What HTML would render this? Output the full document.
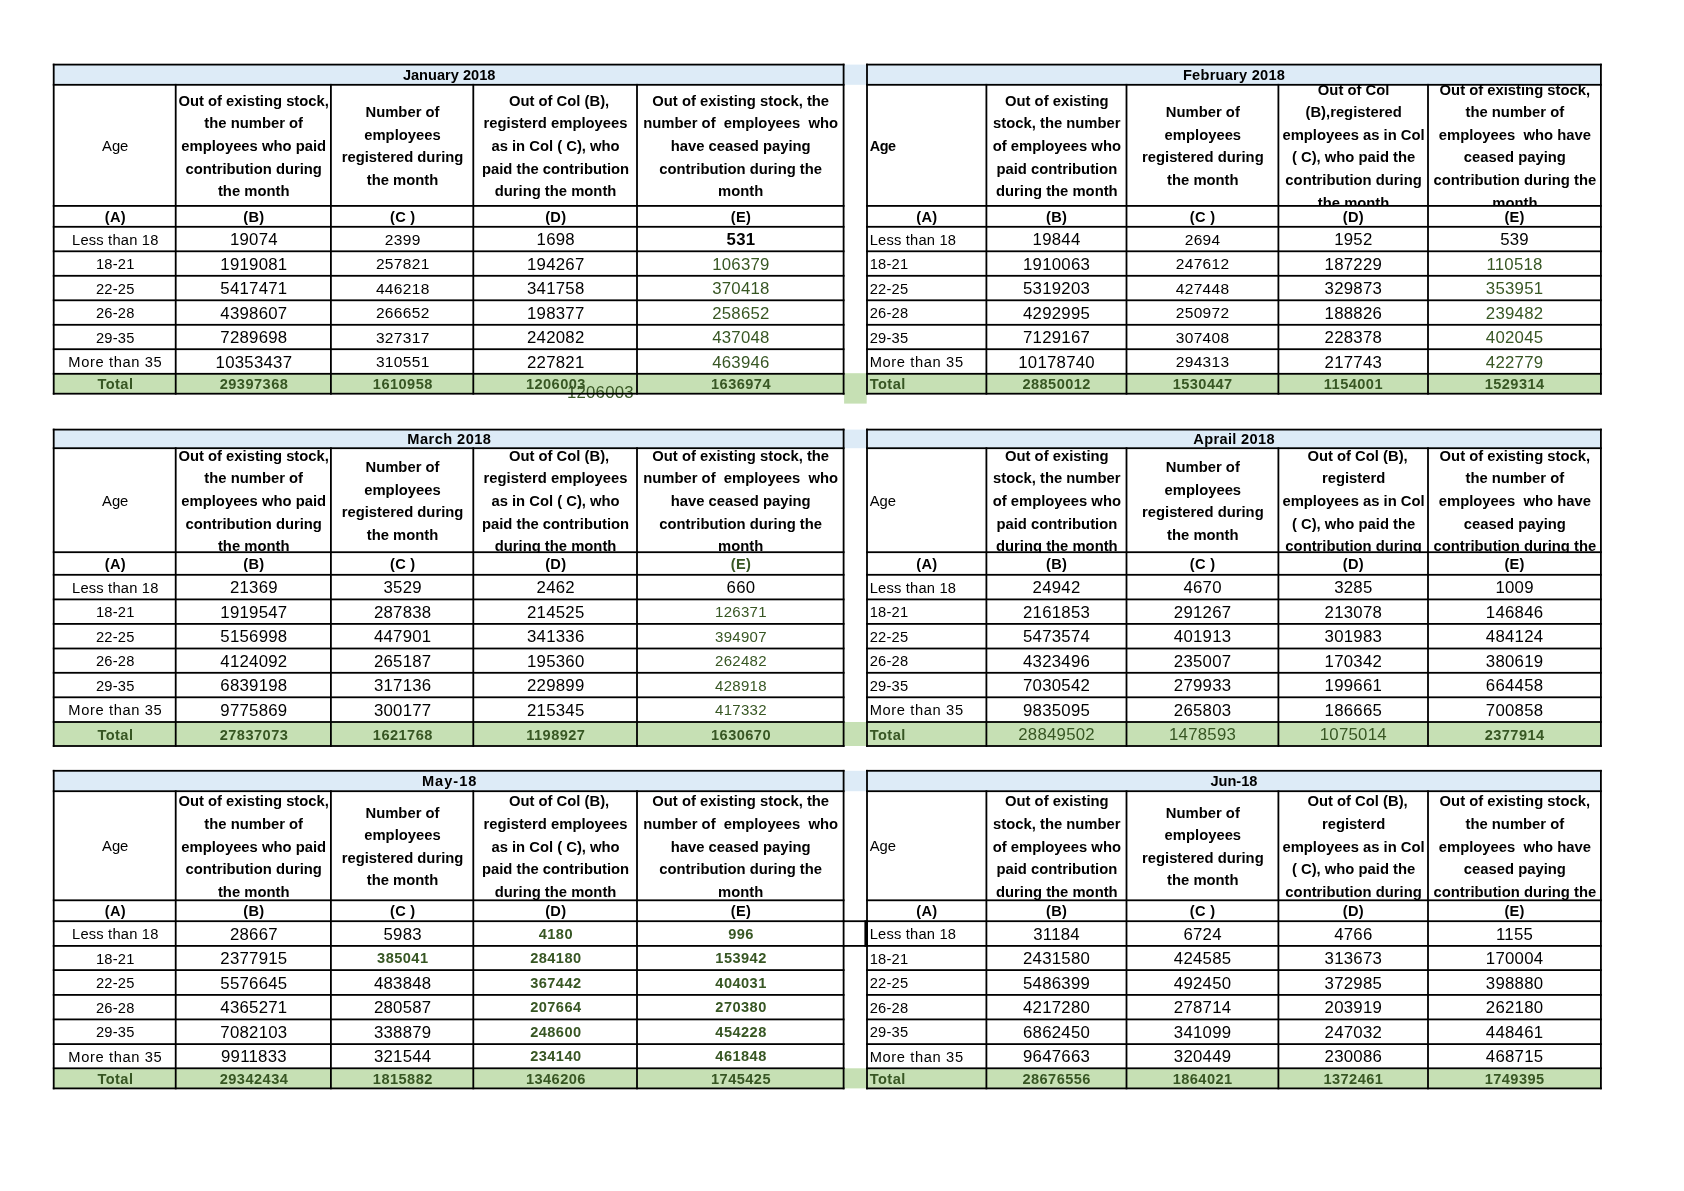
<!DOCTYPE html>
<html lang="en"><head><meta charset="utf-8"><title>Age-wise payroll data 2018</title>
<style>
*{margin:0;padding:0;box-sizing:border-box}
html,body{width:1684px;height:1191px;background:#fff;overflow:hidden}
body{position:relative;font-family:"Liberation Sans",sans-serif;color:#000}
svg{position:absolute;left:0;top:0}
.L{position:absolute;left:0;top:0;width:1684px;height:1191px;will-change:transform}
.t{position:absolute;height:20px;line-height:20px;white-space:nowrap;overflow:visible}
.hc{position:absolute;overflow:hidden}
.h{position:absolute;left:-20px;right:-20px;text-align:center;white-space:nowrap;line-height:22.6px}
.big{font-size:16.8px;letter-spacing:0.25px;font-weight:normal}
.small{font-size:15.5px;letter-spacing:0.33px;font-weight:normal}
.small2{font-size:15.0px;letter-spacing:0.28px;font-weight:normal}
.a{font-size:14.7px;letter-spacing:0.2px;font-weight:normal}
.tot{font-size:14.6px;letter-spacing:0.45px;font-weight:bold}
.title{font-size:14.6px;letter-spacing:0px;font-weight:bold}
.age{font-size:14.8px;letter-spacing:0px;font-weight:normal}
.ageb{font-size:14.4px;letter-spacing:-0.4px;font-weight:bold}
.lab{font-size:14.6px;letter-spacing:0.3px;font-weight:bold}
.hdr{font-size:14.8px;letter-spacing:0px;font-weight:bold}
.bigb{font-size:16.8px;letter-spacing:0.25px;font-weight:bold}
</style></head>
<body>
<svg width="1684" height="1191" viewBox="0 0 1684 1191">
<rect x="843.60" y="64.60" width="23.40" height="20.20" fill="#ddebf7"/>
<rect x="843.60" y="429.60" width="23.40" height="18.60" fill="#ddebf7"/>
<rect x="843.60" y="770.80" width="23.40" height="20.40" fill="#ddebf7"/>
<rect x="844.10" y="373.20" width="22.60" height="30.40" fill="#c6e0b4"/>
<rect x="843.60" y="722.00" width="23.40" height="24.00" fill="#c6e0b4"/>
<rect x="843.60" y="1068.30" width="23.40" height="20.10" fill="#c6e0b4"/>
<rect x="53.70" y="64.60" width="789.90" height="20.20" fill="#ddebf7"/>
<rect x="53.70" y="373.80" width="789.90" height="19.90" fill="#c6e0b4"/>
<rect x="867.00" y="64.60" width="733.90" height="20.20" fill="#ddebf7"/>
<rect x="867.00" y="373.80" width="733.90" height="19.90" fill="#c6e0b4"/>
<rect x="53.70" y="429.60" width="789.90" height="18.60" fill="#ddebf7"/>
<rect x="53.70" y="722.00" width="789.90" height="24.00" fill="#c6e0b4"/>
<rect x="867.00" y="429.60" width="733.90" height="18.60" fill="#ddebf7"/>
<rect x="867.00" y="722.00" width="733.90" height="24.00" fill="#c6e0b4"/>
<rect x="53.70" y="770.80" width="789.90" height="20.40" fill="#ddebf7"/>
<rect x="53.70" y="1068.30" width="789.90" height="20.10" fill="#c6e0b4"/>
<rect x="867.00" y="770.80" width="733.90" height="20.40" fill="#ddebf7"/>
<rect x="867.00" y="1068.30" width="733.90" height="20.10" fill="#c6e0b4"/>
</svg>
<div class="L">
<div class="t big" style="left:564.00px;width:72.60px;top:383px;text-align:center;padding-left:0.25px;color:#375623;">1206003</div>
</div>
<svg width="1684" height="1191" viewBox="0 0 1684 1191">
<rect x="52.80" y="63.70" width="791.70" height="1.80" fill="#000"/>
<rect x="52.80" y="83.90" width="791.70" height="1.80" fill="#000"/>
<rect x="52.80" y="205.00" width="791.70" height="1.80" fill="#000"/>
<rect x="52.80" y="225.90" width="791.70" height="1.80" fill="#000"/>
<rect x="52.80" y="250.40" width="791.70" height="1.80" fill="#000"/>
<rect x="52.80" y="274.90" width="791.70" height="1.80" fill="#000"/>
<rect x="52.80" y="299.40" width="791.70" height="1.80" fill="#000"/>
<rect x="52.80" y="323.90" width="791.70" height="1.80" fill="#000"/>
<rect x="52.80" y="348.30" width="791.70" height="1.80" fill="#000"/>
<rect x="52.80" y="372.90" width="791.70" height="1.80" fill="#000"/>
<rect x="52.80" y="392.80" width="791.70" height="1.80" fill="#000"/>
<rect x="52.80" y="63.70" width="1.80" height="330.90" fill="#000"/>
<rect x="842.70" y="63.70" width="1.80" height="330.90" fill="#000"/>
<rect x="174.80" y="83.90" width="1.80" height="310.70" fill="#000"/>
<rect x="330.00" y="83.90" width="1.80" height="310.70" fill="#000"/>
<rect x="472.40" y="83.90" width="1.80" height="310.70" fill="#000"/>
<rect x="636.10" y="83.90" width="1.80" height="310.70" fill="#000"/>
<rect x="866.10" y="63.70" width="735.70" height="1.80" fill="#000"/>
<rect x="866.10" y="83.90" width="735.70" height="1.80" fill="#000"/>
<rect x="866.10" y="205.00" width="735.70" height="1.80" fill="#000"/>
<rect x="866.10" y="225.90" width="735.70" height="1.80" fill="#000"/>
<rect x="866.10" y="250.40" width="735.70" height="1.80" fill="#000"/>
<rect x="866.10" y="274.90" width="735.70" height="1.80" fill="#000"/>
<rect x="866.10" y="299.40" width="735.70" height="1.80" fill="#000"/>
<rect x="866.10" y="323.90" width="735.70" height="1.80" fill="#000"/>
<rect x="866.10" y="348.30" width="735.70" height="1.80" fill="#000"/>
<rect x="866.10" y="372.90" width="735.70" height="1.80" fill="#000"/>
<rect x="866.10" y="392.80" width="735.70" height="1.80" fill="#000"/>
<rect x="866.10" y="63.70" width="1.80" height="330.90" fill="#000"/>
<rect x="1600.00" y="63.70" width="1.80" height="330.90" fill="#000"/>
<rect x="985.50" y="83.90" width="1.80" height="310.70" fill="#000"/>
<rect x="1125.60" y="83.90" width="1.80" height="310.70" fill="#000"/>
<rect x="1277.50" y="83.90" width="1.80" height="310.70" fill="#000"/>
<rect x="1427.10" y="83.90" width="1.80" height="310.70" fill="#000"/>
<rect x="52.80" y="428.70" width="791.70" height="1.80" fill="#000"/>
<rect x="52.80" y="447.30" width="791.70" height="1.80" fill="#000"/>
<rect x="52.80" y="551.30" width="791.70" height="1.80" fill="#000"/>
<rect x="52.80" y="573.90" width="791.70" height="1.80" fill="#000"/>
<rect x="52.80" y="598.50" width="791.70" height="1.80" fill="#000"/>
<rect x="52.80" y="623.00" width="791.70" height="1.80" fill="#000"/>
<rect x="52.80" y="647.60" width="791.70" height="1.80" fill="#000"/>
<rect x="52.80" y="671.90" width="791.70" height="1.80" fill="#000"/>
<rect x="52.80" y="696.40" width="791.70" height="1.80" fill="#000"/>
<rect x="52.80" y="721.10" width="791.70" height="1.80" fill="#000"/>
<rect x="52.80" y="745.10" width="791.70" height="1.80" fill="#000"/>
<rect x="52.80" y="428.70" width="1.80" height="318.20" fill="#000"/>
<rect x="842.70" y="428.70" width="1.80" height="318.20" fill="#000"/>
<rect x="174.80" y="447.30" width="1.80" height="299.60" fill="#000"/>
<rect x="330.00" y="447.30" width="1.80" height="299.60" fill="#000"/>
<rect x="472.40" y="447.30" width="1.80" height="299.60" fill="#000"/>
<rect x="636.10" y="447.30" width="1.80" height="299.60" fill="#000"/>
<rect x="866.10" y="428.70" width="735.70" height="1.80" fill="#000"/>
<rect x="866.10" y="447.30" width="735.70" height="1.80" fill="#000"/>
<rect x="866.10" y="551.30" width="735.70" height="1.80" fill="#000"/>
<rect x="866.10" y="573.90" width="735.70" height="1.80" fill="#000"/>
<rect x="866.10" y="598.50" width="735.70" height="1.80" fill="#000"/>
<rect x="866.10" y="623.00" width="735.70" height="1.80" fill="#000"/>
<rect x="866.10" y="647.60" width="735.70" height="1.80" fill="#000"/>
<rect x="866.10" y="671.90" width="735.70" height="1.80" fill="#000"/>
<rect x="866.10" y="696.40" width="735.70" height="1.80" fill="#000"/>
<rect x="866.10" y="721.10" width="735.70" height="1.80" fill="#000"/>
<rect x="866.10" y="745.10" width="735.70" height="1.80" fill="#000"/>
<rect x="866.10" y="428.70" width="1.80" height="318.20" fill="#000"/>
<rect x="1600.00" y="428.70" width="1.80" height="318.20" fill="#000"/>
<rect x="985.50" y="447.30" width="1.80" height="299.60" fill="#000"/>
<rect x="1125.60" y="447.30" width="1.80" height="299.60" fill="#000"/>
<rect x="1277.50" y="447.30" width="1.80" height="299.60" fill="#000"/>
<rect x="1427.10" y="447.30" width="1.80" height="299.60" fill="#000"/>
<rect x="52.80" y="769.90" width="791.70" height="1.80" fill="#000"/>
<rect x="52.80" y="790.30" width="791.70" height="1.80" fill="#000"/>
<rect x="52.80" y="899.40" width="791.70" height="1.80" fill="#000"/>
<rect x="52.80" y="920.30" width="791.70" height="1.80" fill="#000"/>
<rect x="52.80" y="945.00" width="791.70" height="1.80" fill="#000"/>
<rect x="52.80" y="969.20" width="791.70" height="1.80" fill="#000"/>
<rect x="52.80" y="994.00" width="791.70" height="1.80" fill="#000"/>
<rect x="52.80" y="1018.50" width="791.70" height="1.80" fill="#000"/>
<rect x="52.80" y="1043.20" width="791.70" height="1.80" fill="#000"/>
<rect x="52.80" y="1067.40" width="791.70" height="1.80" fill="#000"/>
<rect x="52.80" y="1087.50" width="791.70" height="1.80" fill="#000"/>
<rect x="52.80" y="769.90" width="1.80" height="319.40" fill="#000"/>
<rect x="842.70" y="769.90" width="1.80" height="319.40" fill="#000"/>
<rect x="174.80" y="790.30" width="1.80" height="299.00" fill="#000"/>
<rect x="330.00" y="790.30" width="1.80" height="299.00" fill="#000"/>
<rect x="472.40" y="790.30" width="1.80" height="299.00" fill="#000"/>
<rect x="636.10" y="790.30" width="1.80" height="299.00" fill="#000"/>
<rect x="866.10" y="769.90" width="735.70" height="1.80" fill="#000"/>
<rect x="866.10" y="790.30" width="735.70" height="1.80" fill="#000"/>
<rect x="866.10" y="899.40" width="735.70" height="1.80" fill="#000"/>
<rect x="866.10" y="920.30" width="735.70" height="1.80" fill="#000"/>
<rect x="866.10" y="945.00" width="735.70" height="1.80" fill="#000"/>
<rect x="866.10" y="969.20" width="735.70" height="1.80" fill="#000"/>
<rect x="866.10" y="994.00" width="735.70" height="1.80" fill="#000"/>
<rect x="866.10" y="1018.50" width="735.70" height="1.80" fill="#000"/>
<rect x="866.10" y="1043.20" width="735.70" height="1.80" fill="#000"/>
<rect x="866.10" y="1067.40" width="735.70" height="1.80" fill="#000"/>
<rect x="866.10" y="1087.50" width="735.70" height="1.80" fill="#000"/>
<rect x="866.10" y="769.90" width="1.80" height="319.40" fill="#000"/>
<rect x="1600.00" y="769.90" width="1.80" height="319.40" fill="#000"/>
<rect x="985.50" y="790.30" width="1.80" height="299.00" fill="#000"/>
<rect x="1125.60" y="790.30" width="1.80" height="299.00" fill="#000"/>
<rect x="1277.50" y="790.30" width="1.80" height="299.00" fill="#000"/>
<rect x="1427.10" y="790.30" width="1.80" height="299.00" fill="#000"/>
<rect x="842.70" y="920.30" width="25.20" height="1.80" fill="#000"/>
<rect x="842.70" y="945.00" width="25.20" height="1.80" fill="#000"/>
<rect x="864.40" y="920.30" width="3.60" height="26.50" fill="#000"/>
</svg>
<div class="L">
<div class="t title" style="left:54.20px;width:789.90px;top:65px;text-align:center;">January 2018</div>
<div class="t age" style="left:54.20px;width:122.00px;top:136px;text-align:center;">Age</div>
<div class="hc" style="left:177.00px;top:85px;width:153.40px;height:121px;"><div class="t hdr" style="left:-20px;right:-20px;top:6px;text-align:center">Out of existing stock,</div><div class="t hdr" style="left:-20px;right:-20px;top:28px;text-align:center">the number of</div><div class="t hdr" style="left:-20px;right:-20px;top:51px;text-align:center">employees who paid</div><div class="t hdr" style="left:-20px;right:-20px;top:74px;text-align:center">contribution during</div><div class="t hdr" style="left:-20px;right:-20px;top:96px;text-align:center">the month</div></div>
<div class="hc" style="left:332.20px;top:85px;width:140.60px;height:121px;"><div class="t hdr" style="left:-20px;right:-20px;top:17px;text-align:center">Number of</div><div class="t hdr" style="left:-20px;right:-20px;top:40px;text-align:center">employees</div><div class="t hdr" style="left:-20px;right:-20px;top:62px;text-align:center">registered during</div><div class="t hdr" style="left:-20px;right:-20px;top:85px;text-align:center">the month</div></div>
<div class="hc" style="left:474.60px;top:85px;width:161.90px;height:121px;"><div class="t hdr" style="left:-20px;right:-20px;top:6px;text-align:center"><span style="padding-left:7px">Out of Col (B),</span></div><div class="t hdr" style="left:-20px;right:-20px;top:28px;text-align:center">registerd employees</div><div class="t hdr" style="left:-20px;right:-20px;top:51px;text-align:center">as in Col ( C), who</div><div class="t hdr" style="left:-20px;right:-20px;top:74px;text-align:center">paid the contribution</div><div class="t hdr" style="left:-20px;right:-20px;top:96px;text-align:center">during the month</div></div>
<div class="hc" style="left:638.30px;top:85px;width:204.80px;height:121px;"><div class="t hdr" style="left:-20px;right:-20px;top:6px;text-align:center">Out of existing stock, the</div><div class="t hdr" style="left:-20px;right:-20px;top:28px;text-align:center">number of&nbsp; employees&nbsp; who</div><div class="t hdr" style="left:-20px;right:-20px;top:51px;text-align:center">have ceased paying</div><div class="t hdr" style="left:-20px;right:-20px;top:74px;text-align:center">contribution during the</div><div class="t hdr" style="left:-20px;right:-20px;top:96px;text-align:center">month</div></div>
<div class="t lab" style="left:54.20px;width:122.00px;top:207px;text-align:center;padding-left:0.3px;">(A)</div>
<div class="t lab" style="left:176.20px;width:155.20px;top:207px;text-align:center;padding-left:0.3px;">(B)</div>
<div class="t lab" style="left:331.40px;width:142.40px;top:207px;text-align:center;padding-left:0.3px;">(C )</div>
<div class="t lab" style="left:473.80px;width:163.70px;top:207px;text-align:center;padding-left:0.3px;">(D)</div>
<div class="t lab" style="left:637.50px;width:206.60px;top:207px;text-align:center;padding-left:0.3px;">(E)</div>
<div class="t a" style="left:54.20px;width:122.00px;top:230px;text-align:center;padding-left:0.2px;">Less than 18</div>
<div class="t a" style="left:54.20px;width:122.00px;top:254px;text-align:center;padding-left:0.2px;">18-21</div>
<div class="t a" style="left:54.20px;width:122.00px;top:279px;text-align:center;padding-left:0.2px;">22-25</div>
<div class="t a" style="left:54.20px;width:122.00px;top:303px;text-align:center;padding-left:0.2px;">26-28</div>
<div class="t a" style="left:54.20px;width:122.00px;top:328px;text-align:center;padding-left:0.2px;">29-35</div>
<div class="t a" style="left:54.20px;width:122.00px;top:352px;text-align:center;padding-left:0.2px;letter-spacing:0.62px;">More than 35</div>
<div class="t tot" style="left:54.20px;width:122.00px;top:374px;text-align:center;padding-left:0.45px;color:#375623;">Total</div>
<div class="t big" style="left:176.20px;width:155.20px;top:230px;text-align:center;padding-left:0.25px;">19074</div>
<div class="t big" style="left:176.20px;width:155.20px;top:255px;text-align:center;padding-left:0.25px;">1919081</div>
<div class="t big" style="left:176.20px;width:155.20px;top:279px;text-align:center;padding-left:0.25px;">5417471</div>
<div class="t big" style="left:176.20px;width:155.20px;top:304px;text-align:center;padding-left:0.25px;">4398607</div>
<div class="t big" style="left:176.20px;width:155.20px;top:328px;text-align:center;padding-left:0.25px;">7289698</div>
<div class="t big" style="left:176.20px;width:155.20px;top:353px;text-align:center;padding-left:0.25px;">10353437</div>
<div class="t tot" style="left:176.20px;width:155.20px;top:374px;text-align:center;padding-left:0.45px;color:#375623;">29397368</div>
<div class="t small" style="left:331.40px;width:142.40px;top:230px;text-align:center;padding-left:0.33px;">2399</div>
<div class="t small" style="left:331.40px;width:142.40px;top:254px;text-align:center;padding-left:0.33px;">257821</div>
<div class="t small" style="left:331.40px;width:142.40px;top:279px;text-align:center;padding-left:0.33px;">446218</div>
<div class="t small" style="left:331.40px;width:142.40px;top:303px;text-align:center;padding-left:0.33px;">266652</div>
<div class="t small" style="left:331.40px;width:142.40px;top:328px;text-align:center;padding-left:0.33px;">327317</div>
<div class="t small" style="left:331.40px;width:142.40px;top:352px;text-align:center;padding-left:0.33px;">310551</div>
<div class="t tot" style="left:331.40px;width:142.40px;top:374px;text-align:center;padding-left:0.45px;color:#375623;">1610958</div>
<div class="t big" style="left:473.80px;width:163.70px;top:230px;text-align:center;padding-left:0.25px;">1698</div>
<div class="t big" style="left:473.80px;width:163.70px;top:255px;text-align:center;padding-left:0.25px;">194267</div>
<div class="t big" style="left:473.80px;width:163.70px;top:279px;text-align:center;padding-left:0.25px;">341758</div>
<div class="t big" style="left:473.80px;width:163.70px;top:304px;text-align:center;padding-left:0.25px;">198377</div>
<div class="t big" style="left:473.80px;width:163.70px;top:328px;text-align:center;padding-left:0.25px;">242082</div>
<div class="t big" style="left:473.80px;width:163.70px;top:353px;text-align:center;padding-left:0.25px;">227821</div>
<div class="t tot" style="left:473.80px;width:163.70px;top:374px;text-align:center;padding-left:0.45px;color:#375623;">1206003</div>
<div class="t bigb" style="left:637.50px;width:206.60px;top:230px;text-align:center;padding-left:0.25px;">531</div>
<div class="t big" style="left:637.50px;width:206.60px;top:255px;text-align:center;padding-left:0.25px;color:#375623;">106379</div>
<div class="t big" style="left:637.50px;width:206.60px;top:279px;text-align:center;padding-left:0.25px;color:#375623;">370418</div>
<div class="t big" style="left:637.50px;width:206.60px;top:304px;text-align:center;padding-left:0.25px;color:#375623;">258652</div>
<div class="t big" style="left:637.50px;width:206.60px;top:328px;text-align:center;padding-left:0.25px;color:#375623;">437048</div>
<div class="t big" style="left:637.50px;width:206.60px;top:353px;text-align:center;padding-left:0.25px;color:#375623;">463946</div>
<div class="t tot" style="left:637.50px;width:206.60px;top:374px;text-align:center;padding-left:0.45px;color:#375623;">1636974</div>
<div class="t title" style="left:867.00px;width:733.90px;top:65px;text-align:center;letter-spacing:0.25px;padding-left:0.25px;">February 2018</div>
<div class="t ageb" style="left:867.00px;width:119.40px;top:136px;text-align:left;padding-left:2.7px;">Age</div>
<div class="hc" style="left:987.70px;top:85px;width:138.30px;height:121px;"><div class="t hdr" style="left:-20px;right:-20px;top:6px;text-align:center">Out of existing</div><div class="t hdr" style="left:-20px;right:-20px;top:28px;text-align:center">stock, the number</div><div class="t hdr" style="left:-20px;right:-20px;top:51px;text-align:center">of employees who</div><div class="t hdr" style="left:-20px;right:-20px;top:74px;text-align:center">paid contribution</div><div class="t hdr" style="left:-20px;right:-20px;top:96px;text-align:center">during the month</div></div>
<div class="hc" style="left:1127.80px;top:85px;width:150.10px;height:121px;"><div class="t hdr" style="left:-20px;right:-20px;top:17px;text-align:center">Number of</div><div class="t hdr" style="left:-20px;right:-20px;top:40px;text-align:center">employees</div><div class="t hdr" style="left:-20px;right:-20px;top:62px;text-align:center">registered during</div><div class="t hdr" style="left:-20px;right:-20px;top:85px;text-align:center">the month</div></div>
<div class="hc" style="left:1279.70px;top:85px;width:147.80px;height:121px;"><div class="t hdr" style="left:-20px;right:-20px;top:-5px;text-align:center">Out of Col</div><div class="t hdr" style="left:-20px;right:-20px;top:17px;text-align:center">(B),registered</div><div class="t hdr" style="left:-20px;right:-20px;top:40px;text-align:center">employees as in Col</div><div class="t hdr" style="left:-20px;right:-20px;top:62px;text-align:center">( C), who paid the</div><div class="t hdr" style="left:-20px;right:-20px;top:85px;text-align:center">contribution during</div><div class="t hdr" style="left:-20px;right:-20px;top:108px;text-align:center">the month</div></div>
<div class="hc" style="left:1429.30px;top:85px;width:171.10px;height:121px;"><div class="t hdr" style="left:-20px;right:-20px;top:-5px;text-align:center">Out of existing stock,</div><div class="t hdr" style="left:-20px;right:-20px;top:17px;text-align:center">the number of</div><div class="t hdr" style="left:-20px;right:-20px;top:40px;text-align:center">employees&nbsp; who have</div><div class="t hdr" style="left:-20px;right:-20px;top:62px;text-align:center">ceased paying</div><div class="t hdr" style="left:-20px;right:-20px;top:85px;text-align:center">contribution during the</div><div class="t hdr" style="left:-20px;right:-20px;top:108px;text-align:center">month</div></div>
<div class="t lab" style="left:867.00px;width:119.40px;top:207px;text-align:center;padding-left:0.3px;">(A)</div>
<div class="t lab" style="left:986.40px;width:140.10px;top:207px;text-align:center;padding-left:0.3px;">(B)</div>
<div class="t lab" style="left:1126.50px;width:151.90px;top:207px;text-align:center;padding-left:0.3px;">(C )</div>
<div class="t lab" style="left:1278.40px;width:149.60px;top:207px;text-align:center;padding-left:0.3px;">(D)</div>
<div class="t lab" style="left:1428.00px;width:172.90px;top:207px;text-align:center;padding-left:0.3px;">(E)</div>
<div class="t a" style="left:867.00px;width:119.40px;top:230px;text-align:left;padding-left:2.7px;">Less than 18</div>
<div class="t a" style="left:867.00px;width:119.40px;top:254px;text-align:left;padding-left:2.7px;">18-21</div>
<div class="t a" style="left:867.00px;width:119.40px;top:279px;text-align:left;padding-left:2.7px;">22-25</div>
<div class="t a" style="left:867.00px;width:119.40px;top:303px;text-align:left;padding-left:2.7px;">26-28</div>
<div class="t a" style="left:867.00px;width:119.40px;top:328px;text-align:left;padding-left:2.7px;">29-35</div>
<div class="t a" style="left:867.00px;width:119.40px;top:352px;text-align:left;padding-left:2.7px;letter-spacing:0.62px;">More than 35</div>
<div class="t tot" style="left:867.00px;width:119.40px;top:374px;text-align:left;padding-left:2.7px;color:#375623;">Total</div>
<div class="t big" style="left:986.40px;width:140.10px;top:230px;text-align:center;padding-left:0.25px;">19844</div>
<div class="t big" style="left:986.40px;width:140.10px;top:255px;text-align:center;padding-left:0.25px;">1910063</div>
<div class="t big" style="left:986.40px;width:140.10px;top:279px;text-align:center;padding-left:0.25px;">5319203</div>
<div class="t big" style="left:986.40px;width:140.10px;top:304px;text-align:center;padding-left:0.25px;">4292995</div>
<div class="t big" style="left:986.40px;width:140.10px;top:328px;text-align:center;padding-left:0.25px;">7129167</div>
<div class="t big" style="left:986.40px;width:140.10px;top:353px;text-align:center;padding-left:0.25px;">10178740</div>
<div class="t tot" style="left:986.40px;width:140.10px;top:374px;text-align:center;padding-left:0.45px;color:#375623;">28850012</div>
<div class="t small" style="left:1126.50px;width:151.90px;top:230px;text-align:center;padding-left:0.33px;">2694</div>
<div class="t small" style="left:1126.50px;width:151.90px;top:254px;text-align:center;padding-left:0.33px;">247612</div>
<div class="t small" style="left:1126.50px;width:151.90px;top:279px;text-align:center;padding-left:0.33px;">427448</div>
<div class="t small" style="left:1126.50px;width:151.90px;top:303px;text-align:center;padding-left:0.33px;">250972</div>
<div class="t small" style="left:1126.50px;width:151.90px;top:328px;text-align:center;padding-left:0.33px;">307408</div>
<div class="t small" style="left:1126.50px;width:151.90px;top:352px;text-align:center;padding-left:0.33px;">294313</div>
<div class="t tot" style="left:1126.50px;width:151.90px;top:374px;text-align:center;padding-left:0.45px;color:#375623;">1530447</div>
<div class="t big" style="left:1278.40px;width:149.60px;top:230px;text-align:center;padding-left:0.25px;">1952</div>
<div class="t big" style="left:1278.40px;width:149.60px;top:255px;text-align:center;padding-left:0.25px;">187229</div>
<div class="t big" style="left:1278.40px;width:149.60px;top:279px;text-align:center;padding-left:0.25px;">329873</div>
<div class="t big" style="left:1278.40px;width:149.60px;top:304px;text-align:center;padding-left:0.25px;">188826</div>
<div class="t big" style="left:1278.40px;width:149.60px;top:328px;text-align:center;padding-left:0.25px;">228378</div>
<div class="t big" style="left:1278.40px;width:149.60px;top:353px;text-align:center;padding-left:0.25px;">217743</div>
<div class="t tot" style="left:1278.40px;width:149.60px;top:374px;text-align:center;padding-left:0.45px;color:#375623;">1154001</div>
<div class="t big" style="left:1428.00px;width:172.90px;top:230px;text-align:center;padding-left:0.25px;">539</div>
<div class="t big" style="left:1428.00px;width:172.90px;top:255px;text-align:center;padding-left:0.25px;color:#375623;">110518</div>
<div class="t big" style="left:1428.00px;width:172.90px;top:279px;text-align:center;padding-left:0.25px;color:#375623;">353951</div>
<div class="t big" style="left:1428.00px;width:172.90px;top:304px;text-align:center;padding-left:0.25px;color:#375623;">239482</div>
<div class="t big" style="left:1428.00px;width:172.90px;top:328px;text-align:center;padding-left:0.25px;color:#375623;">402045</div>
<div class="t big" style="left:1428.00px;width:172.90px;top:353px;text-align:center;padding-left:0.25px;color:#375623;">422779</div>
<div class="t tot" style="left:1428.00px;width:172.90px;top:374px;text-align:center;padding-left:0.45px;color:#375623;">1529314</div>
<div class="t title" style="left:54.20px;width:789.90px;top:429px;text-align:center;letter-spacing:0.45px;padding-left:0.45px;">March 2018</div>
<div class="t age" style="left:54.20px;width:122.00px;top:491px;text-align:center;">Age</div>
<div class="hc" style="left:177.00px;top:448px;width:153.40px;height:105px;"><div class="t hdr" style="left:-20px;right:-20px;top:-2px;text-align:center">Out of existing stock,</div><div class="t hdr" style="left:-20px;right:-20px;top:20px;text-align:center">the number of</div><div class="t hdr" style="left:-20px;right:-20px;top:43px;text-align:center">employees who paid</div><div class="t hdr" style="left:-20px;right:-20px;top:66px;text-align:center">contribution during</div><div class="t hdr" style="left:-20px;right:-20px;top:88px;text-align:center">the month</div></div>
<div class="hc" style="left:332.20px;top:448px;width:140.60px;height:105px;"><div class="t hdr" style="left:-20px;right:-20px;top:9px;text-align:center">Number of</div><div class="t hdr" style="left:-20px;right:-20px;top:32px;text-align:center">employees</div><div class="t hdr" style="left:-20px;right:-20px;top:54px;text-align:center">registered during</div><div class="t hdr" style="left:-20px;right:-20px;top:77px;text-align:center">the month</div></div>
<div class="hc" style="left:474.60px;top:448px;width:161.90px;height:105px;"><div class="t hdr" style="left:-20px;right:-20px;top:-2px;text-align:center"><span style="padding-left:7px">Out of Col (B),</span></div><div class="t hdr" style="left:-20px;right:-20px;top:20px;text-align:center">registerd employees</div><div class="t hdr" style="left:-20px;right:-20px;top:43px;text-align:center">as in Col ( C), who</div><div class="t hdr" style="left:-20px;right:-20px;top:66px;text-align:center">paid the contribution</div><div class="t hdr" style="left:-20px;right:-20px;top:88px;text-align:center">during the month</div></div>
<div class="hc" style="left:638.30px;top:448px;width:204.80px;height:105px;"><div class="t hdr" style="left:-20px;right:-20px;top:-2px;text-align:center">Out of existing stock, the</div><div class="t hdr" style="left:-20px;right:-20px;top:20px;text-align:center">number of&nbsp; employees&nbsp; who</div><div class="t hdr" style="left:-20px;right:-20px;top:43px;text-align:center">have ceased paying</div><div class="t hdr" style="left:-20px;right:-20px;top:66px;text-align:center">contribution during the</div><div class="t hdr" style="left:-20px;right:-20px;top:88px;text-align:center">month</div></div>
<div class="t lab" style="left:54.20px;width:122.00px;top:554px;text-align:center;padding-left:0.3px;">(A)</div>
<div class="t lab" style="left:176.20px;width:155.20px;top:554px;text-align:center;padding-left:0.3px;">(B)</div>
<div class="t lab" style="left:331.40px;width:142.40px;top:554px;text-align:center;padding-left:0.3px;">(C )</div>
<div class="t lab" style="left:473.80px;width:163.70px;top:554px;text-align:center;padding-left:0.3px;">(D)</div>
<div class="t lab" style="left:637.50px;width:206.60px;top:554px;text-align:center;padding-left:0.3px;color:#375623;">(E)</div>
<div class="t a" style="left:54.20px;width:122.00px;top:578px;text-align:center;padding-left:0.2px;">Less than 18</div>
<div class="t a" style="left:54.20px;width:122.00px;top:602px;text-align:center;padding-left:0.2px;">18-21</div>
<div class="t a" style="left:54.20px;width:122.00px;top:627px;text-align:center;padding-left:0.2px;">22-25</div>
<div class="t a" style="left:54.20px;width:122.00px;top:651px;text-align:center;padding-left:0.2px;">26-28</div>
<div class="t a" style="left:54.20px;width:122.00px;top:676px;text-align:center;padding-left:0.2px;">29-35</div>
<div class="t a" style="left:54.20px;width:122.00px;top:700px;text-align:center;padding-left:0.2px;letter-spacing:0.62px;">More than 35</div>
<div class="t tot" style="left:54.20px;width:122.00px;top:725px;text-align:center;padding-left:0.45px;color:#375623;">Total</div>
<div class="t big" style="left:176.20px;width:155.20px;top:578px;text-align:center;padding-left:0.25px;">21369</div>
<div class="t big" style="left:176.20px;width:155.20px;top:603px;text-align:center;padding-left:0.25px;">1919547</div>
<div class="t big" style="left:176.20px;width:155.20px;top:627px;text-align:center;padding-left:0.25px;">5156998</div>
<div class="t big" style="left:176.20px;width:155.20px;top:652px;text-align:center;padding-left:0.25px;">4124092</div>
<div class="t big" style="left:176.20px;width:155.20px;top:676px;text-align:center;padding-left:0.25px;">6839198</div>
<div class="t big" style="left:176.20px;width:155.20px;top:701px;text-align:center;padding-left:0.25px;">9775869</div>
<div class="t tot" style="left:176.20px;width:155.20px;top:725px;text-align:center;padding-left:0.45px;color:#375623;">27837073</div>
<div class="t big" style="left:331.40px;width:142.40px;top:578px;text-align:center;padding-left:0.25px;">3529</div>
<div class="t big" style="left:331.40px;width:142.40px;top:603px;text-align:center;padding-left:0.25px;">287838</div>
<div class="t big" style="left:331.40px;width:142.40px;top:627px;text-align:center;padding-left:0.25px;">447901</div>
<div class="t big" style="left:331.40px;width:142.40px;top:652px;text-align:center;padding-left:0.25px;">265187</div>
<div class="t big" style="left:331.40px;width:142.40px;top:676px;text-align:center;padding-left:0.25px;">317136</div>
<div class="t big" style="left:331.40px;width:142.40px;top:701px;text-align:center;padding-left:0.25px;">300177</div>
<div class="t tot" style="left:331.40px;width:142.40px;top:725px;text-align:center;padding-left:0.45px;color:#375623;">1621768</div>
<div class="t big" style="left:473.80px;width:163.70px;top:578px;text-align:center;padding-left:0.25px;">2462</div>
<div class="t big" style="left:473.80px;width:163.70px;top:603px;text-align:center;padding-left:0.25px;">214525</div>
<div class="t big" style="left:473.80px;width:163.70px;top:627px;text-align:center;padding-left:0.25px;">341336</div>
<div class="t big" style="left:473.80px;width:163.70px;top:652px;text-align:center;padding-left:0.25px;">195360</div>
<div class="t big" style="left:473.80px;width:163.70px;top:676px;text-align:center;padding-left:0.25px;">229899</div>
<div class="t big" style="left:473.80px;width:163.70px;top:701px;text-align:center;padding-left:0.25px;">215345</div>
<div class="t tot" style="left:473.80px;width:163.70px;top:725px;text-align:center;padding-left:0.45px;color:#375623;">1198927</div>
<div class="t big" style="left:637.50px;width:206.60px;top:578px;text-align:center;padding-left:0.25px;">660</div>
<div class="t small2" style="left:637.50px;width:206.60px;top:602px;text-align:center;padding-left:0.28px;color:#375623;">126371</div>
<div class="t small2" style="left:637.50px;width:206.60px;top:627px;text-align:center;padding-left:0.28px;color:#375623;">394907</div>
<div class="t small2" style="left:637.50px;width:206.60px;top:651px;text-align:center;padding-left:0.28px;color:#375623;">262482</div>
<div class="t small2" style="left:637.50px;width:206.60px;top:676px;text-align:center;padding-left:0.28px;color:#375623;">428918</div>
<div class="t small2" style="left:637.50px;width:206.60px;top:700px;text-align:center;padding-left:0.28px;color:#375623;">417332</div>
<div class="t tot" style="left:637.50px;width:206.60px;top:725px;text-align:center;padding-left:0.45px;color:#375623;">1630670</div>
<div class="t title" style="left:867.00px;width:733.90px;top:429px;text-align:center;letter-spacing:0.35px;padding-left:0.35px;">Aprail 2018</div>
<div class="t age" style="left:867.00px;width:119.40px;top:491px;text-align:left;padding-left:2.7px;">Age</div>
<div class="hc" style="left:987.70px;top:448px;width:138.30px;height:105px;"><div class="t hdr" style="left:-20px;right:-20px;top:-2px;text-align:center">Out of existing</div><div class="t hdr" style="left:-20px;right:-20px;top:20px;text-align:center">stock, the number</div><div class="t hdr" style="left:-20px;right:-20px;top:43px;text-align:center">of employees who</div><div class="t hdr" style="left:-20px;right:-20px;top:66px;text-align:center">paid contribution</div><div class="t hdr" style="left:-20px;right:-20px;top:88px;text-align:center">during the month</div></div>
<div class="hc" style="left:1127.80px;top:448px;width:150.10px;height:105px;"><div class="t hdr" style="left:-20px;right:-20px;top:9px;text-align:center">Number of</div><div class="t hdr" style="left:-20px;right:-20px;top:32px;text-align:center">employees</div><div class="t hdr" style="left:-20px;right:-20px;top:54px;text-align:center">registered during</div><div class="t hdr" style="left:-20px;right:-20px;top:77px;text-align:center">the month</div></div>
<div class="hc" style="left:1279.70px;top:448px;width:147.80px;height:105px;"><div class="t hdr" style="left:-20px;right:-20px;top:-2px;text-align:center"><span style="padding-left:8px">Out of Col (B),</span></div><div class="t hdr" style="left:-20px;right:-20px;top:20px;text-align:center">registerd</div><div class="t hdr" style="left:-20px;right:-20px;top:43px;text-align:center">employees as in Col</div><div class="t hdr" style="left:-20px;right:-20px;top:66px;text-align:center">( C), who paid the</div><div class="t hdr" style="left:-20px;right:-20px;top:88px;text-align:center">contribution during</div></div>
<div class="hc" style="left:1429.30px;top:448px;width:171.10px;height:105px;"><div class="t hdr" style="left:-20px;right:-20px;top:-2px;text-align:center">Out of existing stock,</div><div class="t hdr" style="left:-20px;right:-20px;top:20px;text-align:center">the number of</div><div class="t hdr" style="left:-20px;right:-20px;top:43px;text-align:center">employees&nbsp; who have</div><div class="t hdr" style="left:-20px;right:-20px;top:66px;text-align:center">ceased paying</div><div class="t hdr" style="left:-20px;right:-20px;top:88px;text-align:center">contribution during the</div></div>
<div class="t lab" style="left:867.00px;width:119.40px;top:554px;text-align:center;padding-left:0.3px;">(A)</div>
<div class="t lab" style="left:986.40px;width:140.10px;top:554px;text-align:center;padding-left:0.3px;">(B)</div>
<div class="t lab" style="left:1126.50px;width:151.90px;top:554px;text-align:center;padding-left:0.3px;">(C )</div>
<div class="t lab" style="left:1278.40px;width:149.60px;top:554px;text-align:center;padding-left:0.3px;">(D)</div>
<div class="t lab" style="left:1428.00px;width:172.90px;top:554px;text-align:center;padding-left:0.3px;">(E)</div>
<div class="t a" style="left:867.00px;width:119.40px;top:578px;text-align:left;padding-left:2.7px;">Less than 18</div>
<div class="t a" style="left:867.00px;width:119.40px;top:602px;text-align:left;padding-left:2.7px;">18-21</div>
<div class="t a" style="left:867.00px;width:119.40px;top:627px;text-align:left;padding-left:2.7px;">22-25</div>
<div class="t a" style="left:867.00px;width:119.40px;top:651px;text-align:left;padding-left:2.7px;">26-28</div>
<div class="t a" style="left:867.00px;width:119.40px;top:676px;text-align:left;padding-left:2.7px;">29-35</div>
<div class="t a" style="left:867.00px;width:119.40px;top:700px;text-align:left;padding-left:2.7px;letter-spacing:0.62px;">More than 35</div>
<div class="t tot" style="left:867.00px;width:119.40px;top:725px;text-align:left;padding-left:2.7px;color:#375623;">Total</div>
<div class="t big" style="left:986.40px;width:140.10px;top:578px;text-align:center;padding-left:0.25px;">24942</div>
<div class="t big" style="left:986.40px;width:140.10px;top:603px;text-align:center;padding-left:0.25px;">2161853</div>
<div class="t big" style="left:986.40px;width:140.10px;top:627px;text-align:center;padding-left:0.25px;">5473574</div>
<div class="t big" style="left:986.40px;width:140.10px;top:652px;text-align:center;padding-left:0.25px;">4323496</div>
<div class="t big" style="left:986.40px;width:140.10px;top:676px;text-align:center;padding-left:0.25px;">7030542</div>
<div class="t big" style="left:986.40px;width:140.10px;top:701px;text-align:center;padding-left:0.25px;">9835095</div>
<div class="t big" style="left:986.40px;width:140.10px;top:725px;text-align:center;padding-left:0.25px;color:#375623;">28849502</div>
<div class="t big" style="left:1126.50px;width:151.90px;top:578px;text-align:center;padding-left:0.25px;">4670</div>
<div class="t big" style="left:1126.50px;width:151.90px;top:603px;text-align:center;padding-left:0.25px;">291267</div>
<div class="t big" style="left:1126.50px;width:151.90px;top:627px;text-align:center;padding-left:0.25px;">401913</div>
<div class="t big" style="left:1126.50px;width:151.90px;top:652px;text-align:center;padding-left:0.25px;">235007</div>
<div class="t big" style="left:1126.50px;width:151.90px;top:676px;text-align:center;padding-left:0.25px;">279933</div>
<div class="t big" style="left:1126.50px;width:151.90px;top:701px;text-align:center;padding-left:0.25px;">265803</div>
<div class="t big" style="left:1126.50px;width:151.90px;top:725px;text-align:center;padding-left:0.25px;color:#375623;">1478593</div>
<div class="t big" style="left:1278.40px;width:149.60px;top:578px;text-align:center;padding-left:0.25px;">3285</div>
<div class="t big" style="left:1278.40px;width:149.60px;top:603px;text-align:center;padding-left:0.25px;">213078</div>
<div class="t big" style="left:1278.40px;width:149.60px;top:627px;text-align:center;padding-left:0.25px;">301983</div>
<div class="t big" style="left:1278.40px;width:149.60px;top:652px;text-align:center;padding-left:0.25px;">170342</div>
<div class="t big" style="left:1278.40px;width:149.60px;top:676px;text-align:center;padding-left:0.25px;">199661</div>
<div class="t big" style="left:1278.40px;width:149.60px;top:701px;text-align:center;padding-left:0.25px;">186665</div>
<div class="t big" style="left:1278.40px;width:149.60px;top:725px;text-align:center;padding-left:0.25px;color:#375623;">1075014</div>
<div class="t big" style="left:1428.00px;width:172.90px;top:578px;text-align:center;padding-left:0.25px;">1009</div>
<div class="t big" style="left:1428.00px;width:172.90px;top:603px;text-align:center;padding-left:0.25px;">146846</div>
<div class="t big" style="left:1428.00px;width:172.90px;top:627px;text-align:center;padding-left:0.25px;">484124</div>
<div class="t big" style="left:1428.00px;width:172.90px;top:652px;text-align:center;padding-left:0.25px;">380619</div>
<div class="t big" style="left:1428.00px;width:172.90px;top:676px;text-align:center;padding-left:0.25px;">664458</div>
<div class="t big" style="left:1428.00px;width:172.90px;top:701px;text-align:center;padding-left:0.25px;">700858</div>
<div class="t tot" style="left:1428.00px;width:172.90px;top:725px;text-align:center;padding-left:0.45px;color:#375623;">2377914</div>
<div class="t title" style="left:54.20px;width:789.90px;top:771px;text-align:center;letter-spacing:1.0px;padding-left:1.0px;">May-18</div>
<div class="t age" style="left:54.20px;width:122.00px;top:836px;text-align:center;">Age</div>
<div class="hc" style="left:177.00px;top:791px;width:153.40px;height:110px;"><div class="t hdr" style="left:-20px;right:-20px;top:0px;text-align:center">Out of existing stock,</div><div class="t hdr" style="left:-20px;right:-20px;top:23px;text-align:center">the number of</div><div class="t hdr" style="left:-20px;right:-20px;top:46px;text-align:center">employees who paid</div><div class="t hdr" style="left:-20px;right:-20px;top:68px;text-align:center">contribution during</div><div class="t hdr" style="left:-20px;right:-20px;top:91px;text-align:center">the month</div></div>
<div class="hc" style="left:332.20px;top:791px;width:140.60px;height:110px;"><div class="t hdr" style="left:-20px;right:-20px;top:12px;text-align:center">Number of</div><div class="t hdr" style="left:-20px;right:-20px;top:34px;text-align:center">employees</div><div class="t hdr" style="left:-20px;right:-20px;top:57px;text-align:center">registered during</div><div class="t hdr" style="left:-20px;right:-20px;top:79px;text-align:center">the month</div></div>
<div class="hc" style="left:474.60px;top:791px;width:161.90px;height:110px;"><div class="t hdr" style="left:-20px;right:-20px;top:0px;text-align:center"><span style="padding-left:7px">Out of Col (B),</span></div><div class="t hdr" style="left:-20px;right:-20px;top:23px;text-align:center">registerd employees</div><div class="t hdr" style="left:-20px;right:-20px;top:46px;text-align:center">as in Col ( C), who</div><div class="t hdr" style="left:-20px;right:-20px;top:68px;text-align:center">paid the contribution</div><div class="t hdr" style="left:-20px;right:-20px;top:91px;text-align:center">during the month</div></div>
<div class="hc" style="left:638.30px;top:791px;width:204.80px;height:110px;"><div class="t hdr" style="left:-20px;right:-20px;top:0px;text-align:center">Out of existing stock, the</div><div class="t hdr" style="left:-20px;right:-20px;top:23px;text-align:center">number of&nbsp; employees&nbsp; who</div><div class="t hdr" style="left:-20px;right:-20px;top:46px;text-align:center">have ceased paying</div><div class="t hdr" style="left:-20px;right:-20px;top:68px;text-align:center">contribution during the</div><div class="t hdr" style="left:-20px;right:-20px;top:91px;text-align:center">month</div></div>
<div class="t lab" style="left:54.20px;width:122.00px;top:901px;text-align:center;padding-left:0.3px;">(A)</div>
<div class="t lab" style="left:176.20px;width:155.20px;top:901px;text-align:center;padding-left:0.3px;">(B)</div>
<div class="t lab" style="left:331.40px;width:142.40px;top:901px;text-align:center;padding-left:0.3px;">(C )</div>
<div class="t lab" style="left:473.80px;width:163.70px;top:901px;text-align:center;padding-left:0.3px;">(D)</div>
<div class="t lab" style="left:637.50px;width:206.60px;top:901px;text-align:center;padding-left:0.3px;">(E)</div>
<div class="t a" style="left:54.20px;width:122.00px;top:924px;text-align:center;padding-left:0.2px;">Less than 18</div>
<div class="t a" style="left:54.20px;width:122.00px;top:949px;text-align:center;padding-left:0.2px;">18-21</div>
<div class="t a" style="left:54.20px;width:122.00px;top:973px;text-align:center;padding-left:0.2px;">22-25</div>
<div class="t a" style="left:54.20px;width:122.00px;top:998px;text-align:center;padding-left:0.2px;">26-28</div>
<div class="t a" style="left:54.20px;width:122.00px;top:1022px;text-align:center;padding-left:0.2px;">29-35</div>
<div class="t a" style="left:54.20px;width:122.00px;top:1047px;text-align:center;padding-left:0.2px;letter-spacing:0.62px;">More than 35</div>
<div class="t tot" style="left:54.20px;width:122.00px;top:1069px;text-align:center;padding-left:0.45px;color:#375623;">Total</div>
<div class="t big" style="left:176.20px;width:155.20px;top:925px;text-align:center;padding-left:0.25px;">28667</div>
<div class="t big" style="left:176.20px;width:155.20px;top:949px;text-align:center;padding-left:0.25px;">2377915</div>
<div class="t big" style="left:176.20px;width:155.20px;top:974px;text-align:center;padding-left:0.25px;">5576645</div>
<div class="t big" style="left:176.20px;width:155.20px;top:998px;text-align:center;padding-left:0.25px;">4365271</div>
<div class="t big" style="left:176.20px;width:155.20px;top:1023px;text-align:center;padding-left:0.25px;">7082103</div>
<div class="t big" style="left:176.20px;width:155.20px;top:1047px;text-align:center;padding-left:0.25px;">9911833</div>
<div class="t tot" style="left:176.20px;width:155.20px;top:1069px;text-align:center;padding-left:0.45px;color:#375623;">29342434</div>
<div class="t big" style="left:331.40px;width:142.40px;top:925px;text-align:center;padding-left:0.25px;">5983</div>
<div class="t tot" style="left:331.40px;width:142.40px;top:948px;text-align:center;padding-left:0.45px;color:#375623;">385041</div>
<div class="t big" style="left:331.40px;width:142.40px;top:974px;text-align:center;padding-left:0.25px;">483848</div>
<div class="t big" style="left:331.40px;width:142.40px;top:998px;text-align:center;padding-left:0.25px;">280587</div>
<div class="t big" style="left:331.40px;width:142.40px;top:1023px;text-align:center;padding-left:0.25px;">338879</div>
<div class="t big" style="left:331.40px;width:142.40px;top:1047px;text-align:center;padding-left:0.25px;">321544</div>
<div class="t tot" style="left:331.40px;width:142.40px;top:1069px;text-align:center;padding-left:0.45px;color:#375623;">1815882</div>
<div class="t tot" style="left:473.80px;width:163.70px;top:924px;text-align:center;padding-left:0.45px;color:#375623;">4180</div>
<div class="t tot" style="left:473.80px;width:163.70px;top:948px;text-align:center;padding-left:0.45px;color:#375623;">284180</div>
<div class="t tot" style="left:473.80px;width:163.70px;top:973px;text-align:center;padding-left:0.45px;color:#375623;">367442</div>
<div class="t tot" style="left:473.80px;width:163.70px;top:997px;text-align:center;padding-left:0.45px;color:#375623;">207664</div>
<div class="t tot" style="left:473.80px;width:163.70px;top:1022px;text-align:center;padding-left:0.45px;color:#375623;">248600</div>
<div class="t tot" style="left:473.80px;width:163.70px;top:1046px;text-align:center;padding-left:0.45px;color:#375623;">234140</div>
<div class="t tot" style="left:473.80px;width:163.70px;top:1069px;text-align:center;padding-left:0.45px;color:#375623;">1346206</div>
<div class="t tot" style="left:637.50px;width:206.60px;top:924px;text-align:center;padding-left:0.45px;color:#375623;">996</div>
<div class="t tot" style="left:637.50px;width:206.60px;top:948px;text-align:center;padding-left:0.45px;color:#375623;">153942</div>
<div class="t tot" style="left:637.50px;width:206.60px;top:973px;text-align:center;padding-left:0.45px;color:#375623;">404031</div>
<div class="t tot" style="left:637.50px;width:206.60px;top:997px;text-align:center;padding-left:0.45px;color:#375623;">270380</div>
<div class="t tot" style="left:637.50px;width:206.60px;top:1022px;text-align:center;padding-left:0.45px;color:#375623;">454228</div>
<div class="t tot" style="left:637.50px;width:206.60px;top:1046px;text-align:center;padding-left:0.45px;color:#375623;">461848</div>
<div class="t tot" style="left:637.50px;width:206.60px;top:1069px;text-align:center;padding-left:0.45px;color:#375623;">1745425</div>
<div class="t title" style="left:867.00px;width:733.90px;top:771px;text-align:center;">Jun-18</div>
<div class="t age" style="left:867.00px;width:119.40px;top:836px;text-align:left;padding-left:2.7px;">Age</div>
<div class="hc" style="left:987.70px;top:791px;width:138.30px;height:110px;"><div class="t hdr" style="left:-20px;right:-20px;top:0px;text-align:center">Out of existing</div><div class="t hdr" style="left:-20px;right:-20px;top:23px;text-align:center">stock, the number</div><div class="t hdr" style="left:-20px;right:-20px;top:46px;text-align:center">of employees who</div><div class="t hdr" style="left:-20px;right:-20px;top:68px;text-align:center">paid contribution</div><div class="t hdr" style="left:-20px;right:-20px;top:91px;text-align:center">during the month</div></div>
<div class="hc" style="left:1127.80px;top:791px;width:150.10px;height:110px;"><div class="t hdr" style="left:-20px;right:-20px;top:12px;text-align:center">Number of</div><div class="t hdr" style="left:-20px;right:-20px;top:34px;text-align:center">employees</div><div class="t hdr" style="left:-20px;right:-20px;top:57px;text-align:center">registered during</div><div class="t hdr" style="left:-20px;right:-20px;top:79px;text-align:center">the month</div></div>
<div class="hc" style="left:1279.70px;top:791px;width:147.80px;height:110px;"><div class="t hdr" style="left:-20px;right:-20px;top:0px;text-align:center"><span style="padding-left:8px">Out of Col (B),</span></div><div class="t hdr" style="left:-20px;right:-20px;top:23px;text-align:center">registerd</div><div class="t hdr" style="left:-20px;right:-20px;top:46px;text-align:center">employees as in Col</div><div class="t hdr" style="left:-20px;right:-20px;top:68px;text-align:center">( C), who paid the</div><div class="t hdr" style="left:-20px;right:-20px;top:91px;text-align:center">contribution during</div></div>
<div class="hc" style="left:1429.30px;top:791px;width:171.10px;height:110px;"><div class="t hdr" style="left:-20px;right:-20px;top:0px;text-align:center">Out of existing stock,</div><div class="t hdr" style="left:-20px;right:-20px;top:23px;text-align:center">the number of</div><div class="t hdr" style="left:-20px;right:-20px;top:46px;text-align:center">employees&nbsp; who have</div><div class="t hdr" style="left:-20px;right:-20px;top:68px;text-align:center">ceased paying</div><div class="t hdr" style="left:-20px;right:-20px;top:91px;text-align:center">contribution during the</div></div>
<div class="t lab" style="left:867.00px;width:119.40px;top:901px;text-align:center;padding-left:0.3px;">(A)</div>
<div class="t lab" style="left:986.40px;width:140.10px;top:901px;text-align:center;padding-left:0.3px;">(B)</div>
<div class="t lab" style="left:1126.50px;width:151.90px;top:901px;text-align:center;padding-left:0.3px;">(C )</div>
<div class="t lab" style="left:1278.40px;width:149.60px;top:901px;text-align:center;padding-left:0.3px;">(D)</div>
<div class="t lab" style="left:1428.00px;width:172.90px;top:901px;text-align:center;padding-left:0.3px;">(E)</div>
<div class="t a" style="left:867.00px;width:119.40px;top:924px;text-align:left;padding-left:2.7px;">Less than 18</div>
<div class="t a" style="left:867.00px;width:119.40px;top:949px;text-align:left;padding-left:2.7px;">18-21</div>
<div class="t a" style="left:867.00px;width:119.40px;top:973px;text-align:left;padding-left:2.7px;">22-25</div>
<div class="t a" style="left:867.00px;width:119.40px;top:998px;text-align:left;padding-left:2.7px;">26-28</div>
<div class="t a" style="left:867.00px;width:119.40px;top:1022px;text-align:left;padding-left:2.7px;">29-35</div>
<div class="t a" style="left:867.00px;width:119.40px;top:1047px;text-align:left;padding-left:2.7px;letter-spacing:0.62px;">More than 35</div>
<div class="t tot" style="left:867.00px;width:119.40px;top:1069px;text-align:left;padding-left:2.7px;color:#375623;">Total</div>
<div class="t big" style="left:986.40px;width:140.10px;top:925px;text-align:center;padding-left:0.25px;">31184</div>
<div class="t big" style="left:986.40px;width:140.10px;top:949px;text-align:center;padding-left:0.25px;">2431580</div>
<div class="t big" style="left:986.40px;width:140.10px;top:974px;text-align:center;padding-left:0.25px;">5486399</div>
<div class="t big" style="left:986.40px;width:140.10px;top:998px;text-align:center;padding-left:0.25px;">4217280</div>
<div class="t big" style="left:986.40px;width:140.10px;top:1023px;text-align:center;padding-left:0.25px;">6862450</div>
<div class="t big" style="left:986.40px;width:140.10px;top:1047px;text-align:center;padding-left:0.25px;">9647663</div>
<div class="t tot" style="left:986.40px;width:140.10px;top:1069px;text-align:center;padding-left:0.45px;color:#375623;">28676556</div>
<div class="t big" style="left:1126.50px;width:151.90px;top:925px;text-align:center;padding-left:0.25px;">6724</div>
<div class="t big" style="left:1126.50px;width:151.90px;top:949px;text-align:center;padding-left:0.25px;">424585</div>
<div class="t big" style="left:1126.50px;width:151.90px;top:974px;text-align:center;padding-left:0.25px;">492450</div>
<div class="t big" style="left:1126.50px;width:151.90px;top:998px;text-align:center;padding-left:0.25px;">278714</div>
<div class="t big" style="left:1126.50px;width:151.90px;top:1023px;text-align:center;padding-left:0.25px;">341099</div>
<div class="t big" style="left:1126.50px;width:151.90px;top:1047px;text-align:center;padding-left:0.25px;">320449</div>
<div class="t tot" style="left:1126.50px;width:151.90px;top:1069px;text-align:center;padding-left:0.45px;color:#375623;">1864021</div>
<div class="t big" style="left:1278.40px;width:149.60px;top:925px;text-align:center;padding-left:0.25px;">4766</div>
<div class="t big" style="left:1278.40px;width:149.60px;top:949px;text-align:center;padding-left:0.25px;">313673</div>
<div class="t big" style="left:1278.40px;width:149.60px;top:974px;text-align:center;padding-left:0.25px;">372985</div>
<div class="t big" style="left:1278.40px;width:149.60px;top:998px;text-align:center;padding-left:0.25px;">203919</div>
<div class="t big" style="left:1278.40px;width:149.60px;top:1023px;text-align:center;padding-left:0.25px;">247032</div>
<div class="t big" style="left:1278.40px;width:149.60px;top:1047px;text-align:center;padding-left:0.25px;">230086</div>
<div class="t tot" style="left:1278.40px;width:149.60px;top:1069px;text-align:center;padding-left:0.45px;color:#375623;">1372461</div>
<div class="t big" style="left:1428.00px;width:172.90px;top:925px;text-align:center;padding-left:0.25px;">1155</div>
<div class="t big" style="left:1428.00px;width:172.90px;top:949px;text-align:center;padding-left:0.25px;">170004</div>
<div class="t big" style="left:1428.00px;width:172.90px;top:974px;text-align:center;padding-left:0.25px;">398880</div>
<div class="t big" style="left:1428.00px;width:172.90px;top:998px;text-align:center;padding-left:0.25px;">262180</div>
<div class="t big" style="left:1428.00px;width:172.90px;top:1023px;text-align:center;padding-left:0.25px;">448461</div>
<div class="t big" style="left:1428.00px;width:172.90px;top:1047px;text-align:center;padding-left:0.25px;">468715</div>
<div class="t tot" style="left:1428.00px;width:172.90px;top:1069px;text-align:center;padding-left:0.45px;color:#375623;">1749395</div>
</div>
</body></html>
